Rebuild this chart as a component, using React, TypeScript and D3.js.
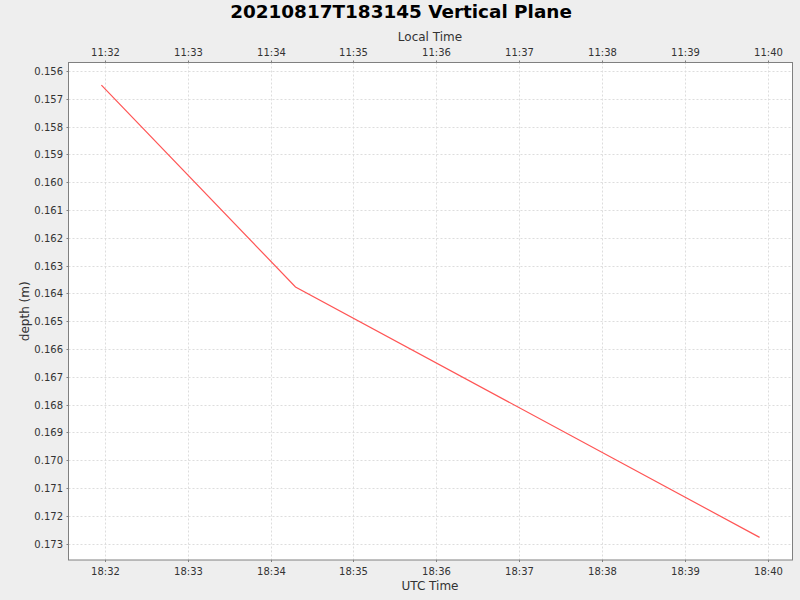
import React from "react";
import * as d3 from "d3";

const times: string[] = [
  "2021-08-17T18:31:57.5Z",
  "2021-08-17T18:34:18Z",
  "2021-08-17T18:39:54Z",
];
const depths: number[] = [0.15651, 0.16377, 0.17278];
const utcTicks: string[] = ["18:32", "18:33", "18:34", "18:35", "18:36", "18:37", "18:38", "18:39", "18:40"];
const localTicks: string[] = ["11:32", "11:33", "11:34", "11:35", "11:36", "11:37", "11:38", "11:39", "11:40"];
const depthTicks: number[] = [0.156, 0.157, 0.158, 0.159, 0.16, 0.161, 0.162, 0.163, 0.164, 0.165, 0.166, 0.167, 0.168, 0.169, 0.17, 0.171, 0.172, 0.173];
const title = "20210817T183145 Vertical Plane";

const W = 800, H = 600;
const plot = { left: 68.5, right: 792.5, top: 62.5, bottom: 560 };
const font = "'DejaVu Sans', sans-serif";

export default function App() {
  const data = times.map((t, i) => ({ t: new Date(t), d: depths[i] }));
  const tExt = d3.extent(data, (p) => +p.t) as [number, number];
  const dExt = d3.extent(data, (p) => p.d) as [number, number];
  const tm = (tExt[1] - tExt[0]) * 0.05;
  const dm = (dExt[1] - dExt[0]) * 0.05;
  const x = d3.scaleUtc().domain([tExt[0] - tm, tExt[1] + tm]).range([plot.left, plot.right]);
  const y = d3.scaleLinear().domain([dExt[0] - dm, dExt[1] + dm]).range([plot.top, plot.bottom]);
  const tickDate = (s: string) => new Date(`2021-08-17T${s}:00Z`);
  const line = d3.line<{ t: Date; d: number }>().x((p) => x(p.t)).y((p) => y(p.d));

  return (
    <svg width={W} height={H} style={{ position: "absolute", left: 0, top: 0, fontFamily: font }}>
      <rect x={0} y={0} width={W} height={H} fill="#EEEEEE" />
      <text x={401} y={18} textAnchor="middle" fontSize={18.4} fontWeight="bold" fill="#000">{title}</text>
      <rect x={plot.left} y={plot.top} width={plot.right - plot.left} height={plot.bottom - plot.top} fill="#FFFFFF" />
      {utcTicks.map((s) => {
        const xx = Math.round(x(tickDate(s))) + 0.5;
        return <line key={"gx" + s} x1={xx} x2={xx} y1={plot.top} y2={plot.bottom} stroke="#DDDDDD" strokeDasharray="2,2" />;
      })}
      {depthTicks.map((v) => {
        const yy = Math.round(y(v)) + 0.5;
        return <line key={"gy" + v} x1={plot.left} x2={plot.right} y1={yy} y2={yy} stroke="#DDDDDD" strokeDasharray="2,2" />;
      })}
      <path d={line(data) || ""} fill="none" stroke="#FF5555" strokeWidth={1.2} />
      <rect x={plot.left} y={plot.top} width={plot.right - plot.left} height={plot.bottom - plot.top} fill="none" stroke="#808080" strokeWidth={1} />
      {utcTicks.map((s) => {
        const xx = Math.round(x(tickDate(s))) + 0.5;
        return (
          <g key={"tb" + s}>
            <line x1={xx} x2={xx} y1={plot.bottom} y2={plot.bottom + 2} stroke="#808080" />
            <text x={xx} y={575} textAnchor="middle" fontSize={10} fill="#333">{s}</text>
          </g>
        );
      })}
      {localTicks.map((s, i) => {
        const xx = Math.round(x(tickDate(utcTicks[i]))) + 0.5;
        return (
          <g key={"tt" + s}>
            <line x1={xx} x2={xx} y1={plot.top - 2} y2={plot.top} stroke="#808080" />
            <text x={xx} y={56} textAnchor="middle" fontSize={10} fill="#333">{s}</text>
          </g>
        );
      })}
      {depthTicks.map((v) => {
        const yy = Math.round(y(v)) + 0.5;
        return (
          <g key={"ty" + v}>
            <line x1={plot.left - 2} x2={plot.left} y1={yy} y2={yy} stroke="#808080" />
            <text x={63} y={yy + 3.5} textAnchor="end" fontSize={10} fill="#333">{v.toFixed(3)}</text>
          </g>
        );
      })}
      <text x={430} y={41} textAnchor="middle" fontSize={12} fill="#333">Local Time</text>
      <text x={430} y={590} textAnchor="middle" fontSize={12} fill="#333">UTC Time</text>
      <text transform={`translate(29,${(plot.top + plot.bottom) / 2}) rotate(-90)`} textAnchor="middle" fontSize={12} fill="#333">depth (m)</text>
    </svg>
  );
}
